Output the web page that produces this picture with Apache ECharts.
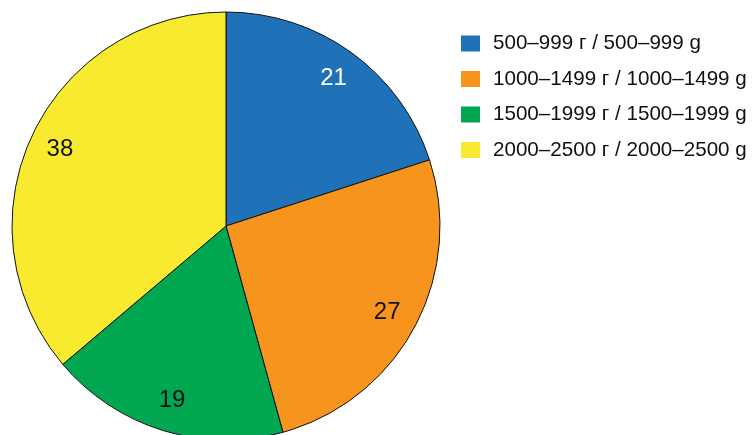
<!DOCTYPE html>
<html>
<head>
<meta charset="utf-8">
<script src="https://cdn.jsdelivr.net/npm/echarts@6/dist/echarts.min.js"></script>
<style>
  html, body { margin: 0; padding: 0; background: #fff; }
  #chart { width: 752px; height: 435px; }
</style>
</head>
<body>
<div id="chart"></div>
<script>
const categories = [
    '500–999 г / 500–999 g',
    '1000–1499 г / 1000–1499 g',
    '1500–1999 г / 1500–1999 g',
    '2000–2500 г / 2000–2500 g'
]
const values = [21, 27, 19, 38]
const colors = ['#1f71b8', '#f7941d', '#00a650', '#f8eb2f']
const labelColors = ['#ffffff', '#111111', '#111111', '#111111']

const data = categories.map((name, i) => ({
    name: name,
    value: values[i],
    itemStyle: { color: colors[i] }
}))

// labels sit near the rim, so they come from a transparent ring on top
const labelData = categories.map((name, i) => ({
    name: name,
    value: values[i],
    label: { color: labelColors[i] }
}))

let chart = echarts.init(document.getElementById('chart'))
let option = {
    animation: false,
    legend: {
        orient: 'vertical',
        left: 461,
        top: 33,
        padding: 0,
        itemWidth: 19,
        itemHeight: 16,
        itemGap: 14.5,
        icon: 'rect',
        selectedMode: false,
        itemStyle: { borderWidth: 0 },
        textStyle: {
            fontFamily: 'Liberation Sans, Arial, sans-serif',
            fontSize: 20.6,
            color: '#111',
            padding: [0, 0, 0, 8]
        },
        data: categories
    },
    series: [{
        type: 'pie',
        center: [226, 226],
        radius: [0, 214],
        startAngle: 90,
        clockwise: true,
        silent: true,
        data: data,
        itemStyle: {
            borderColor: '#111',
            borderWidth: 1
        },
        label: { show: false },
        labelLine: { show: false }
    }, {
        type: 'pie',
        center: [226, 226],
        radius: [146, 214],
        startAngle: 90,
        clockwise: true,
        silent: true,
        data: labelData,
        itemStyle: {
            color: 'rgba(0,0,0,0)',
            borderWidth: 0
        },
        label: {
            show: true,
            position: 'inside',
            formatter: '{c}',
            fontFamily: 'Liberation Sans, Arial, sans-serif',
            fontSize: 24
        },
        labelLine: { show: false }
    }]
}
chart.setOption(option)
</script>
</body>
</html>
